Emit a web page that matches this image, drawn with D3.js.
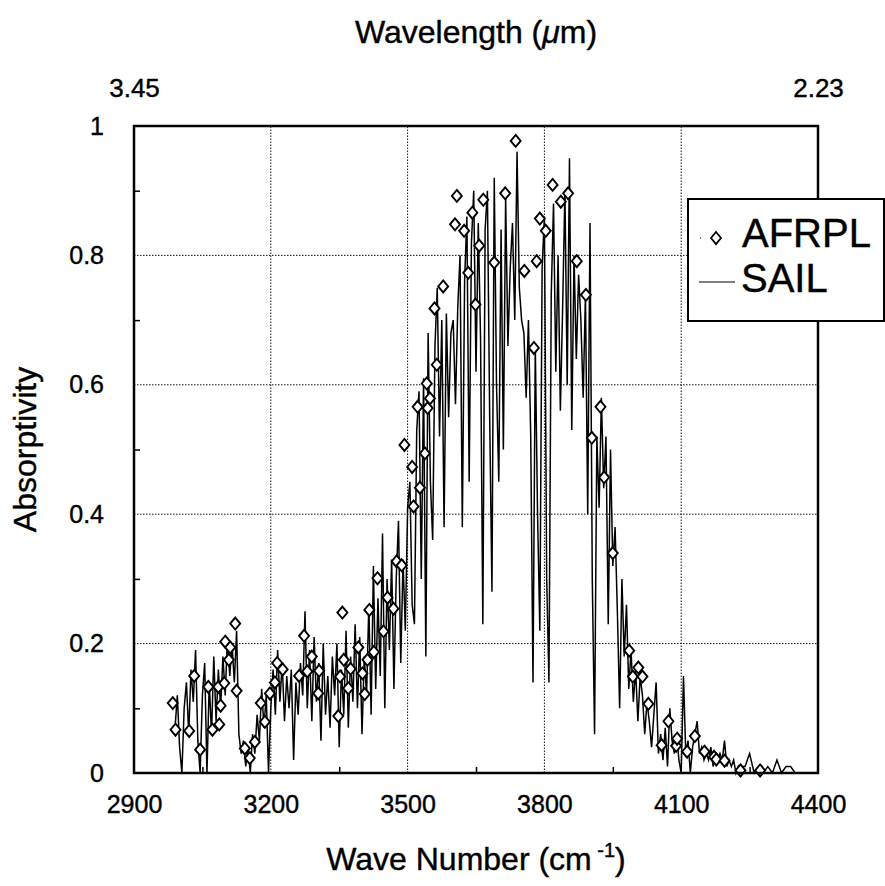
<!DOCTYPE html>
<html>
<head>
<meta charset="utf-8">
<script src="https://cdn.jsdelivr.net/npm/d3@7"></script>
<style>
  body { margin: 0; background: #fff; }
  text { font-family: "Liberation Sans", Arial, Helvetica, sans-serif; fill: #000; stroke: #000; stroke-width: 0.4px; }
</style>
</head>
<body>
<svg id="chart"></svg>
<script>
// tick values and labels
const xTicks = [2900, 3200, 3500, 3800, 4100, 4400]
const xMinorTicks = [3050, 3350, 3650, 3950, 4250]
const yTicks = [0, 0.2, 0.4, 0.6, 0.8, 1]
const yTickLabels = ['0', '0.2', '0.4', '0.6', '0.8', '1']
const yMinorTicks = [0.1, 0.3, 0.5, 0.7, 0.9]
const wavelengthTicks = [2900, 4400]
const wavelengthLabels = ['3.45', '2.23']

// AFRPL measurements [wave number, absorptivity]
const afrpl = [
  [2985, 0.108], [2991, 0.067], [3021, 0.065], [3032, 0.150], [3045, 0.036],
  [3063, 0.133], [3072, 0.067], [3085, 0.133], [3087, 0.075], [3090, 0.104],
  [3098, 0.139], [3100, 0.203], [3108, 0.175], [3111, 0.194], [3122, 0.231],
  [3125, 0.127], [3143, 0.038], [3154, 0.023], [3165, 0.048], [3178, 0.108],
  [3187, 0.079], [3198, 0.123], [3209, 0.140], [3214, 0.170], [3226, 0.160],
  [3262, 0.150], [3273, 0.212], [3280, 0.157], [3290, 0.180], [3304, 0.123],
  [3306, 0.158], [3348, 0.088], [3352, 0.149], [3357, 0.248], [3360, 0.175],
  [3370, 0.131], [3375, 0.161], [3392, 0.194], [3401, 0.154], [3406, 0.122],
  [3412, 0.175], [3416, 0.252], [3426, 0.187], [3434, 0.301], [3447, 0.219],
  [3456, 0.271], [3469, 0.254], [3476, 0.327], [3487, 0.321], [3493, 0.507],
  [3510, 0.473], [3513, 0.412], [3522, 0.566], [3527, 0.441], [3538, 0.494],
  [3542, 0.602], [3544, 0.564], [3549, 0.579], [3559, 0.718], [3564, 0.631],
  [3578, 0.752], [3604, 0.848], [3608, 0.892], [3624, 0.838], [3633, 0.773],
  [3642, 0.866], [3649, 0.724], [3657, 0.815], [3666, 0.886], [3690, 0.789],
  [3714, 0.896], [3737, 0.977], [3756, 0.776], [3777, 0.657], [3783, 0.791],
  [3790, 0.857], [3803, 0.838], [3818, 0.909], [3836, 0.883], [3852, 0.896],
  [3871, 0.791], [3891, 0.739], [3904, 0.518], [3923, 0.566], [3931, 0.457],
  [3950, 0.340], [3986, 0.189], [3994, 0.149], [4006, 0.163], [4015, 0.149],
  [4028, 0.107], [4057, 0.043], [4072, 0.080], [4089, 0.042], [4091, 0.053],
  [4113, 0.033], [4130, 0.057], [4151, 0.033], [4172, 0.025], [4177, 0.021],
  [4195, 0.019], [4230, 0.004], [4273, 0.004]
]

// SAIL high resolution spectrum [wave number, absorptivity]
const sail = [
  [2990, 0.07], [2995, 0.12], [3000, 0.04], [3005, 0.00], [3010, 0.10], [3015, 0.14], [3020, 0.06], [3025, 0.16], [3030, 0.11], [3035, 0.19],
  [3040, 0.05], [3045, 0.00], [3050, 0.12], [3055, 0.17], [3060, 0.00], [3065, 0.14], [3070, 0.06], [3075, 0.18], [3080, 0.08], [3085, 0.16],
  [3090, 0.10], [3095, 0.18], [3100, 0.12], [3105, 0.21], [3110, 0.15], [3115, 0.20], [3120, 0.14], [3125, 0.22], [3130, 0.06], [3135, 0.03],
  [3140, 0.05], [3145, 0.01], [3150, 0.04], [3155, 0.00], [3160, 0.06], [3165, 0.03], [3170, 0.09], [3175, 0.05], [3180, 0.13], [3185, 0.07],
  [3190, 0.12], [3195, 0.00], [3200, 0.10], [3205, 0.16], [3210, 0.09], [3215, 0.19], [3220, 0.11], [3225, 0.17], [3230, 0.08], [3235, 0.15],
  [3240, 0.10], [3245, 0.16], [3250, 0.02], [3255, 0.14], [3260, 0.09], [3265, 0.17], [3270, 0.12], [3275, 0.25], [3280, 0.10], [3285, 0.19],
  [3290, 0.08], [3295, 0.21], [3300, 0.11], [3305, 0.17], [3310, 0.05], [3315, 0.20], [3320, 0.09], [3325, 0.15], [3330, 0.07], [3335, 0.18],
  [3340, 0.12], [3345, 0.20], [3350, 0.04], [3355, 0.16], [3360, 0.09], [3365, 0.22], [3370, 0.07], [3375, 0.18], [3380, 0.11], [3385, 0.23],
  [3390, 0.10], [3395, 0.21], [3400, 0.06], [3405, 0.18], [3410, 0.12], [3415, 0.26], [3420, 0.09], [3425, 0.32], [3430, 0.13], [3435, 0.27],
  [3440, 0.15], [3445, 0.37], [3450, 0.10], [3455, 0.30], [3460, 0.19], [3465, 0.33], [3470, 0.13], [3475, 0.30], [3480, 0.39], [3485, 0.17],
  [3490, 0.33], [3495, 0.22], [3500, 0.41], [3505, 0.45], [3510, 0.26], [3515, 0.23], [3520, 0.53], [3525, 0.59], [3530, 0.30], [3535, 0.61],
  [3540, 0.18], [3545, 0.68], [3550, 0.45], [3555, 0.36], [3560, 0.66], [3565, 0.75], [3570, 0.52], [3575, 0.70], [3580, 0.38], [3585, 0.71],
  [3590, 0.55], [3595, 0.68], [3600, 0.70], [3605, 0.57], [3610, 0.72], [3615, 0.80], [3620, 0.38], [3625, 0.76], [3630, 0.86], [3635, 0.45],
  [3640, 0.82], [3645, 0.90], [3650, 0.62], [3655, 0.85], [3660, 0.67], [3665, 0.23], [3670, 0.84], [3675, 0.90], [3680, 0.55], [3685, 0.28],
  [3690, 0.92], [3695, 0.60], [3700, 0.45], [3705, 0.84], [3710, 0.50], [3715, 0.89], [3720, 0.66], [3725, 0.78], [3730, 0.85], [3735, 0.70],
  [3740, 0.96], [3745, 0.75], [3750, 0.70], [3755, 0.68], [3760, 0.58], [3765, 0.70], [3770, 0.52], [3775, 0.14], [3780, 0.66], [3785, 0.40],
  [3790, 0.22], [3795, 0.78], [3800, 0.86], [3805, 0.30], [3810, 0.14], [3815, 0.74], [3820, 0.88], [3825, 0.62], [3830, 0.80], [3835, 0.56],
  [3840, 0.72], [3845, 0.90], [3850, 0.60], [3855, 0.95], [3860, 0.53], [3865, 0.80], [3870, 0.64], [3875, 0.77], [3880, 0.70], [3885, 0.58],
  [3890, 0.74], [3895, 0.40], [3900, 0.85], [3905, 0.30], [3910, 0.06], [3915, 0.52], [3920, 0.41], [3925, 0.58], [3930, 0.44], [3935, 0.52],
  [3940, 0.23], [3945, 0.50], [3950, 0.32], [3955, 0.38], [3960, 0.25], [3965, 0.10], [3970, 0.30], [3975, 0.18], [3980, 0.26], [3985, 0.13],
  [3990, 0.19], [3995, 0.11], [4000, 0.16], [4005, 0.08], [4010, 0.15], [4015, 0.12], [4020, 0.06], [4025, 0.11], [4030, 0.08], [4035, 0.04],
  [4040, 0.09], [4045, 0.14], [4050, 0.03], [4055, 0.06], [4060, 0.02], [4065, 0.07], [4070, 0.01], [4075, 0.10], [4080, 0.05], [4085, 0.03],
  [4090, 0.06], [4095, 0.02], [4100, 0.00], [4105, 0.15], [4110, 0.03], [4115, 0.05], [4120, 0.00], [4125, 0.04], [4130, 0.06], [4135, 0.08],
  [4140, 0.03], [4145, 0.04], [4150, 0.02], [4155, 0.03], [4160, 0.02], [4165, 0.04], [4170, 0.01], [4175, 0.03], [4180, 0.02], [4185, 0.03],
  [4190, 0.02], [4195, 0.05], [4200, 0.01], [4205, 0.02], [4210, 0.01], [4215, 0.02], [4220, 0.00], [4225, 0.01], [4230, 0.00], [4235, 0.01],
  [4240, 0.01], [4245, 0.02], [4250, 0.03], [4260, 0.00], [4270, 0.01], [4280, 0.00], [4290, 0.01], [4300, 0.00], [4310, 0.02], [4320, 0.00],
  [4330, 0.01], [4340, 0.01], [4350, 0.00], [4360, 0.00], [4370, 0.00], [4380, 0.00], [4390, 0.00]
]

const width = 885, height = 886
const margin = { top: 126, right: 67, bottom: 113, left: 134 }
const font = '"Liberation Sans", Arial, Helvetica, sans-serif'

const svg = d3.select('#chart')
    .attr('width', width)
    .attr('height', height)

const x = d3.scaleLinear().domain([2900, 4400]).range([margin.left, width - margin.right])
const y = d3.scaleLinear().domain([0, 1]).range([height - margin.bottom, margin.top])

const diamond = 'M0,-6L5,0L0,6L-5,0Z'

//Grid
svg.append('g')
    .selectAll('line')
    .data(xTicks.slice(1, -1))
    .join('line')
    .attr('x1', d => x(d)).attr('x2', d => x(d))
    .attr('y1', y(0)).attr('y2', y(1))
    .attr('stroke', '#111')
    .attr('stroke-dasharray', '1.5,1.5')
svg.append('g')
    .selectAll('line')
    .data(yTicks.slice(1, -1))
    .join('line')
    .attr('x1', x(2900)).attr('x2', x(4400))
    .attr('y1', d => y(d)).attr('y2', d => y(d))
    .attr('stroke', '#111')
    .attr('stroke-dasharray', '1.5,1.5')

//Minor ticks (inside)
svg.append('g')
    .attr('transform', `translate(0,${y(0)})`)
    .call(d3.axisBottom(x).tickValues(xMinorTicks).tickSize(-6).tickFormat(''))
    .call(g => g.select('.domain').remove())
    .selectAll('line').attr('stroke-width', 1.5)
svg.append('g')
    .attr('transform', `translate(${x(2900)},0)`)
    .call(d3.axisLeft(y).tickValues(yMinorTicks).tickSize(-6).tickFormat(''))
    .call(g => g.select('.domain').remove())
    .selectAll('line').attr('stroke-width', 1.5)

//Tick labels
svg.append('g')
    .attr('transform', `translate(0,${y(0)})`)
    .call(d3.axisBottom(x).tickValues(xTicks).tickSize(0).tickPadding(22).tickFormat(d3.format('d')))
    .call(g => g.select('.domain').remove())
    .selectAll('text')
    .style('font-size', '25px')
    .style('font-family', font)
svg.append('g')
    .attr('transform', `translate(${x(2900)},0)`)
    .call(d3.axisLeft(y).tickValues(yTicks).tickSize(0).tickPadding(30)
        .tickFormat((d, i) => yTickLabels[i]))
    .call(g => g.select('.domain').remove())
    .selectAll('text')
    .style('font-size', '25px')
    .style('font-family', font)
svg.append('g')
    .attr('transform', `translate(0,${y(1)})`)
    .call(d3.axisTop(x).tickValues(wavelengthTicks).tickSize(0).tickPadding(29)
        .tickFormat((d, i) => wavelengthLabels[i]))
    .call(g => g.select('.domain').remove())
    .selectAll('text')
    .style('font-size', '26px')
    .style('font-family', font)

//Draw SAIL spectrum
const line = d3.line().x(d => x(d[0])).y(d => y(d[1]))
svg.append('path')
    .datum(sail)
    .attr('d', line)
    .attr('fill', 'none')
    .attr('stroke', '#000')
    .attr('stroke-width', 1.5)

//Draw AFRPL diamonds
svg.append('g')
    .selectAll('path')
    .data(afrpl)
    .join('path')
    .attr('d', diamond)
    .attr('transform', d => `translate(${x(d[0])},${y(d[1])})`)
    .attr('fill', '#fff')
    .attr('stroke', '#000')
    .attr('stroke-width', 1.9)

//Frame
svg.append('rect')
    .attr('x', x(2900)).attr('y', y(1))
    .attr('width', x(4400) - x(2900))
    .attr('height', y(0) - y(1))
    .attr('fill', 'none')
    .attr('stroke', '#000')
    .attr('stroke-width', 2.5)

//Axis titles
svg.append('text')
    .attr('x', (x(2900) + x(4400)) / 2)
    .attr('y', 870)
    .attr('text-anchor', 'middle')
    .style('font-size', '32px')
    .text('Wave Number (cm')
    .call(t => t.append('tspan').attr('dy', -13).style('font-size', '20px').text(' -1'))
    .call(t => t.append('tspan').attr('dy', 13).text(')'))
svg.append('text')
    .attr('x', (x(2900) + x(4400)) / 2)
    .attr('y', 43)
    .attr('text-anchor', 'middle')
    .style('font-size', '32px')
    .text('Wavelength (')
    .call(t => t.append('tspan').style('font-style', 'italic').text('μ'))
    .call(t => t.append('tspan').text('m)'))
svg.append('text')
    .attr('transform', `translate(36,${(y(0) + y(1)) / 2}) rotate(-90)`)
    .attr('text-anchor', 'middle')
    .style('font-size', '32px')
    .text('Absorptivity')

//Legend
const legend = svg.append('g').attr('transform', 'translate(688,199)')
legend.append('rect')
    .attr('width', 196).attr('height', 122)
    .attr('fill', '#fff')
    .attr('stroke', '#000')
    .attr('stroke-width', 2)
legend.append('line')
    .attr('x1', 12).attr('x2', 44).attr('y1', 39).attr('y2', 39)
    .attr('stroke', '#000')
    .attr('stroke-dasharray', '1,15')
legend.append('path')
    .attr('d', diamond)
    .attr('transform', 'translate(28,39)')
    .attr('fill', '#fff')
    .attr('stroke', '#000')
    .attr('stroke-width', 1.8)
legend.append('text')
    .attr('x', 54).attr('y', 48)
    .style('font-size', '40px')
    .text('AFRPL')
legend.append('line')
    .attr('x1', 11).attr('x2', 47).attr('y1', 83).attr('y2', 83)
    .attr('stroke', '#000')
legend.append('text')
    .attr('x', 53).attr('y', 93)
    .style('font-size', '40px')
    .text('SAIL')
</script>
</body>
</html>
